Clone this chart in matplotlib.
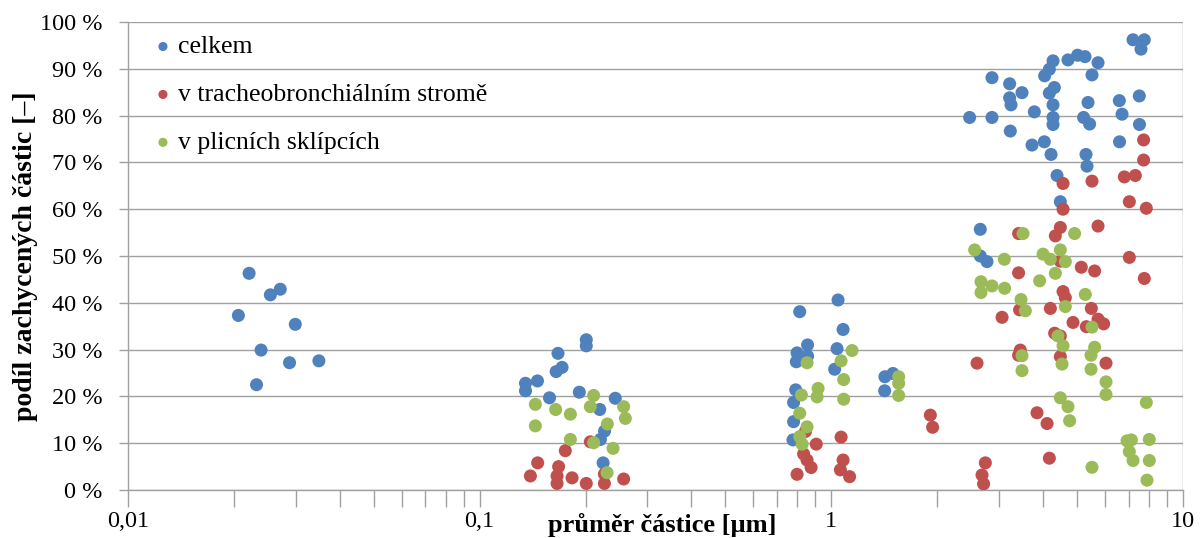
import numpy as np
import matplotlib
matplotlib.use('Agg')
import matplotlib.pyplot as plt
from matplotlib.ticker import FixedLocator, FuncFormatter, NullFormatter

plt.rcParams['font.family'] = ['Liberation Serif', 'DejaVu Serif']

# celkem (blue)
celkem_x = [0.0221, 0.0271, 0.0254, 0.0206, 0.0299, 0.0239, 0.0288, 0.0349, 0.0232,
            0.201, 0.201, 0.167, 0.1715, 0.165, 0.135, 0.146, 0.135, 0.158, 0.192,
            0.243, 0.2195, 0.2265, 0.2205, 0.2244,
            1.045, 0.813, 1.080, 0.856, 0.799, 0.856, 0.795, 1.038, 1.022, 1.420,
            1.497, 1.418, 0.792, 0.781, 0.781, 0.778,
            7.209, 7.762, 7.597, 4.710, 5.015, 5.265, 5.733, 4.270, 4.168, 4.042,
            5.511, 2.863, 3.214, 3.485, 3.214, 3.243, 4.307, 4.168, 4.270, 3.778,
            5.370, 6.591, 7.512, 6.709, 2.473, 2.863, 4.270, 4.270, 5.216, 5.426,
            7.520, 3.228, 3.721, 4.033, 4.215, 6.600, 5.299, 5.334, 4.383, 4.479,
            2.652, 2.652, 2.771]
celkem_y = [46.3, 42.9, 41.7, 37.3, 35.4, 29.9, 27.2, 27.6, 22.5,
            32.1, 30.8, 29.2, 26.2, 25.3, 22.8, 23.3, 21.2, 19.7, 20.9,
            19.6, 17.2, 12.6, 10.8, 5.8,
            40.6, 38.1, 34.3, 31.0, 29.3, 28.6, 27.4, 30.2, 25.8, 24.2,
            24.9, 21.2, 21.4, 18.7, 14.6, 10.7,
            96.2, 96.2, 94.2, 91.9, 92.9, 92.6, 91.3, 91.7, 89.9, 88.5,
            88.7, 88.1, 86.8, 84.9, 83.8, 82.3, 86.0, 84.8, 82.3, 80.8,
            82.8, 83.2, 84.2, 80.3, 79.6, 79.6, 79.6, 78.1, 79.6, 78.2,
            78.1, 76.7, 73.7, 74.4, 71.7, 74.4, 71.7, 69.2, 67.2, 61.6,
            55.7, 50.0, 48.8]

# v tracheobronchialnim strome (red)
tracheo_x = [0.2064, 0.1752, 0.1462, 0.1677, 0.1394, 0.1660, 0.1660, 0.1831, 0.2010,
             0.2263, 0.2263, 0.2567,
             0.844, 0.906, 1.066, 0.834, 0.853, 0.876, 0.799, 1.080, 1.061, 1.127,
             1.912, 1.941,
             7.727, 7.727, 6.811, 7.319, 4.559, 5.511, 7.037, 7.864, 4.559,
             4.479, 4.335, 3.408, 5.733, 7.037, 4.479, 5.138, 5.607, 3.408, 7.762,
             4.559, 4.628, 4.196, 3.430, 5.487, 3.058, 4.867, 5.733, 5.947, 5.310,
             4.315, 4.479, 3.446, 3.408, 4.479, 2.596, 6.041, 3.845, 4.106, 4.168,
             2.741, 2.682, 2.710]
tracheo_y = [10.3, 8.4, 5.8, 5.0, 3.0, 3.0, 1.4, 2.6, 1.4,
             3.4, 1.4, 2.35,
             12.5, 9.8, 11.3, 7.7, 6.4, 4.8, 3.35, 6.4, 4.3, 2.85,
             16.0, 13.4,
             74.8, 70.5, 66.9, 67.2, 65.5, 66.0, 61.6, 60.2, 60.0,
             56.1, 54.3, 54.8, 56.4, 49.7, 48.9, 47.6, 46.8, 46.4, 45.2,
             42.4, 41.1, 38.8, 38.5, 38.8, 36.9, 35.8, 36.5, 35.5, 34.9,
             33.5, 32.9, 29.9, 28.8, 28.5, 27.1, 27.1, 16.5, 14.2, 6.8,
             5.8, 3.2, 1.3]

# v plicnich sklipcich (green)
plicni_x = [0.1440, 0.1440, 0.1645, 0.1811, 0.2109, 0.2064, 0.2567, 0.2596, 0.2307,
            0.1811, 0.2109, 0.2395, 0.2303,
            1.145, 0.853, 1.066, 1.084, 0.917, 0.911, 0.822, 1.084, 1.554, 1.554,
            1.554, 0.813, 0.853, 0.813, 0.826,
            3.508, 4.918, 2.556, 4.479, 3.999, 4.196, 4.628, 3.104, 4.335, 3.911,
            2.664, 2.863, 3.110, 2.664, 5.275, 3.462, 4.628, 3.562, 5.511, 4.412,
            4.559, 5.607, 5.476, 3.485, 4.529, 3.485, 5.476, 6.041, 6.041, 4.479,
            4.710, 4.760, 7.864, 6.933, 7.129, 8.020, 7.037, 7.209, 8.020, 7.900,
            5.511]
plicni_y = [18.3, 13.7, 17.2, 16.2, 20.2, 17.8, 17.8, 15.3, 14.1,
            10.8, 10.1, 8.9, 3.7,
            29.8, 27.2, 27.6, 23.6, 21.7, 19.9, 20.3, 19.4, 24.2, 22.8,
            20.2, 16.4, 13.5, 11.4, 9.8,
            54.8, 54.8, 51.3, 51.3, 50.4, 49.3, 48.8, 49.3, 46.3, 44.7,
            44.5, 43.6, 43.1, 42.2, 41.8, 40.7, 39.2, 38.3, 34.8, 32.9,
            30.8, 30.5, 28.8, 28.7, 26.9, 25.5, 25.8, 23.1, 20.4, 19.7,
            17.8, 14.8, 18.7, 10.5, 10.7, 10.8, 8.2, 6.3, 6.3, 2.1,
            4.85]

series_names = ['celkem', 'v tracheobronchiálním stromě', 'v plicních sklípcích']
series_colors = ['#4F81BD', '#C0504D', '#9BBB59']

x_major = [0.01, 0.1, 1, 10]
x_major_labels = ['0,01', '0,1', '1', '10']
y_ticks = list(range(0, 101, 10))

grid_col = '#A0A0A0'

fig = plt.figure(figsize=(12.04, 5.38), dpi=100)
ax = fig.add_axes([128 / 1204, 48 / 538, 1055 / 1204, 468 / 538])

for xs, ys, name, col in zip([celkem_x, tracheo_x, plicni_x],
                             [celkem_y, tracheo_y, plicni_y],
                             series_names, series_colors):
    ax.scatter(xs, ys, s=88, color=col, edgecolors='none', label=name, zorder=3)

ax.set_xscale('log')
ax.set_xlim(0.01, 10)
ax.set_ylim(0, 100)

ax.xaxis.set_major_locator(FixedLocator(x_major))
ax.set_xticklabels(x_major_labels)
minors = [m * 10.0 ** e for e in range(-2, 1) for m in range(2, 10)]
ax.xaxis.set_minor_locator(FixedLocator(minors))
ax.xaxis.set_minor_formatter(NullFormatter())

ax.yaxis.set_major_locator(FixedLocator(y_ticks))
ax.yaxis.set_major_formatter(FuncFormatter(lambda v, p: f'{int(v)} %'))

ax.grid(axis='y', color=grid_col, linewidth=1.0, zorder=0)
ax.axvline(10, color=grid_col, linewidth=1.0, zorder=1)

for side in ['top', 'right']:
    ax.spines[side].set_visible(False)
for side in ['left', 'bottom']:
    ax.spines[side].set_color(grid_col)
    ax.spines[side].set_linewidth(1.0)

ax.tick_params(axis='x', which='major', direction='out', length=12, width=1.0,
               color=grid_col, labelsize=17.5, pad=3)
ax.tick_params(axis='x', which='minor', direction='out', length=12, width=1.0,
               color=grid_col)
ax.tick_params(axis='y', which='major', direction='out', length=6.5, width=1.0,
               color=grid_col, labelsize=17.5, pad=12)

ax.set_ylabel('podíl zachycených částic [–]', fontsize=20, fontweight='bold')
ax.yaxis.set_label_coords(-0.085, 0.5)
ax.set_xlabel('průměr částice [µm]', fontsize=19, fontweight='bold')
ax.xaxis.set_label_coords(0.5066, -0.075)
ax.xaxis.label.set_va('center')

ax.legend(loc='upper left', bbox_to_anchor=(0.0173, 0.9936), frameon=False,
          fontsize=18.5, markerscale=0.7, handlelength=0.5, handletextpad=0.33,
          labelspacing=0.97, borderpad=0.4, borderaxespad=0, scatterpoints=1)

fig.savefig('out.png', dpi=100)
